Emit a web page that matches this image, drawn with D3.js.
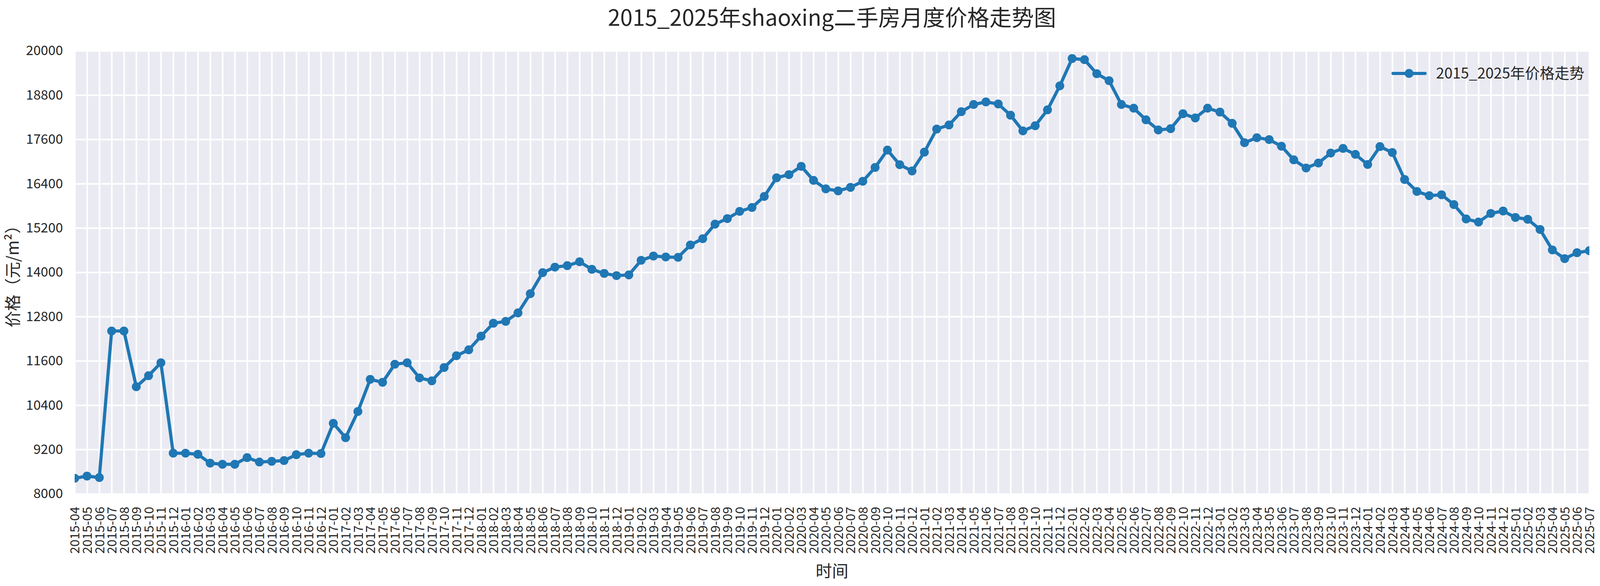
<!DOCTYPE html>
<html>
<head>
<meta charset="utf-8">
<script src="https://cdn.jsdelivr.net/npm/d3@7"></script>
<style>
  html, body { margin: 0; padding: 0; width: 100%; height: 100%; overflow: hidden; background: #fff; }
  svg { display: block; font-family: "Noto Sans CJK SC", "Noto Sans", sans-serif; }
</style>
</head>
<body>
<svg width="100%" height="100%"></svg>
<script>
// 数据
var months = [
  "2015-04","2015-05","2015-06","2015-07","2015-08","2015-09","2015-10","2015-11","2015-12",
  "2016-01","2016-02","2016-03","2016-04","2016-05","2016-06","2016-07","2016-08","2016-09","2016-10","2016-11","2016-12",
  "2017-01","2017-02","2017-03","2017-04","2017-05","2017-06","2017-07","2017-08","2017-09","2017-10","2017-11","2017-12",
  "2018-01","2018-02","2018-03","2018-04","2018-05","2018-06","2018-07","2018-08","2018-09","2018-10","2018-11","2018-12",
  "2019-01","2019-02","2019-03","2019-04","2019-05","2019-06","2019-07","2019-08","2019-09","2019-10","2019-11","2019-12",
  "2020-01","2020-02","2020-03","2020-04","2020-05","2020-06","2020-07","2020-08","2020-09","2020-10","2020-11","2020-12",
  "2021-01","2021-02","2021-03","2021-04","2021-05","2021-06","2021-07","2021-08","2021-09","2021-10","2021-11","2021-12",
  "2022-01","2022-02","2022-03","2022-04","2022-05","2022-06","2022-07","2022-08","2022-09","2022-10","2022-11","2022-12",
  "2023-01","2023-02","2023-03","2023-04","2023-05","2023-06","2023-07","2023-08","2023-09","2023-10","2023-11","2023-12",
  "2024-01","2024-02","2024-03","2024-04","2024-05","2024-06","2024-07","2024-08","2024-09","2024-10","2024-11","2024-12",
  "2025-01","2025-02","2025-03","2025-04","2025-05","2025-06","2025-07"
];

var prices = [
  8420, 8480, 8440, 12410, 12410, 10900, 11200, 11550, 9100,
  9100, 9070, 8830, 8800, 8800, 8980, 8860, 8880, 8900, 9060, 9100, 9090,
  9910, 9520, 10230, 11100, 11020, 11510, 11550, 11140, 11060, 11420, 11740, 11900,
  12270, 12620, 12670, 12900, 13420, 13990, 14140, 14180, 14285, 14080, 13970, 13910,
  13930, 14325, 14440, 14415, 14405, 14740, 14910, 15305, 15455, 15650, 15755, 16055,
  16560, 16645, 16870, 16490, 16260, 16205, 16300, 16465, 16840, 17310, 16915, 16745,
  17255, 17880, 17990, 18350, 18545, 18615, 18560, 18255, 17830, 17970, 18400, 19050,
  19790, 19760, 19380, 19190, 18545, 18445, 18130, 17855, 17890, 18295, 18180, 18445,
  18340, 18035, 17510, 17645, 17595, 17415, 17045, 16825, 16960, 17230, 17355, 17195,
  16920, 17405, 17245, 16515, 16190, 16075, 16100, 15835, 15445, 15360, 15595, 15660,
  15485, 15435, 15160, 14605, 14370, 14530, 14585
];

var yTicks = [8000, 9200, 10400, 11600, 12800, 14000, 15200, 16400, 17600, 18800, 20000];

var titleText = "2015_2025年shaoxing二手房月度价格走势图";
var seriesName = "2015_2025年价格走势";
var xLabel = "时间";
var yLabel = "价格（元/m²）";

// 画布：宽度固定 4500，高度按窗口比例伸缩（垂直位置乘 k）
var W = 4500;
var vw = window.innerWidth || 4500, vh = window.innerHeight || 1500;
var H = Math.round(W * vh / vw);
if (!(H > 0)) H = 1500;
var k = H / 1500;

var margin = {top: 130 * k, right: 30, bottom: 1500 * k - 1264 * k, left: 210};
var width = W - margin.left - margin.right;
var height = H - margin.top - margin.bottom;
var blue = "#1f77b4";
var ink = "#262626";

var dataset = months.map(function(m, i) { return {month: m, price: prices[i]}; });

// 比例尺
var xScale = d3.scalePoint().domain(months).range([0, width]).padding(0);
var yScale = d3.scaleLinear().domain([8000, 20000]).range([height, 0]);

var svg = d3.select("svg").attr("viewBox", "0 0 " + W + " " + H);

svg.append("text")
  .attr("x", margin.left + width / 2)
  .attr("y", 46 * k)
  .attr("dy", "0.35em")
  .attr("text-anchor", "middle")
  .attr("fill", ink)
  .style("font-size", "62.5px")
  .text(titleText);

var mySVG = svg.append("g")
  .attr("transform", "translate(" + margin.left + "," + margin.top + ")");

mySVG.append("rect")
  .attr("width", width)
  .attr("height", height)
  .attr("fill", "#eaeaf2");

mySVG.append("clipPath").attr("id", "plotclip")
  .append("rect").attr("width", width).attr("height", height);

// 网格
var yGrid = mySVG.append("g").attr("class", "ygrid")
  .call(d3.axisLeft(yScale).tickValues(yTicks).tickSize(-width).tickFormat(""));
var xGrid = mySVG.append("g").attr("class", "xgrid")
  .attr("transform", "translate(0," + height + ")")
  .call(d3.axisBottom(xScale).tickSize(height).tickFormat(""));
xGrid.selectAll(".tick line").attr("y2", -height);
mySVG.selectAll(".ygrid .domain, .xgrid .domain").remove();
mySVG.selectAll(".ygrid .tick line, .xgrid .tick line")
  .attr("stroke", "#fff")
  .attr("stroke-width", 4.5);

// 坐标轴
var yAxisGroup = mySVG.append("g").attr("class", "yAxis")
  .call(d3.axisLeft(yScale).tickValues(yTicks).tickSize(0).tickPadding(33).tickFormat(d3.format("d")));
var xAxisGroup = mySVG.append("g").attr("class", "xAxis")
  .attr("transform", "translate(0," + height + ")")
  .call(d3.axisBottom(xScale).tickSize(0));
mySVG.selectAll(".yAxis .domain, .xAxis .domain").remove();

yAxisGroup.selectAll("text")
  .attr("fill", ink)
  .style("font-size", "37.5px")
  .style("font-family", "'Noto Sans CJK SC', sans-serif");

xAxisGroup.selectAll("text")
  .attr("fill", ink)
  .attr("y", 0)
  .attr("x", -33 * k)
  .attr("dy", "0.36em")
  .attr("transform", "rotate(-90)")
  .style("text-anchor", "end")
  .style("font-size", "36px")
  .style("font-family", "'Noto Sans CJK SC', sans-serif");

// 折线
var line = d3.line()
  .x(function(d) { return xScale(d.month); })
  .y(function(d) { return yScale(d.price); });

var plot = mySVG.append("g").attr("clip-path", "url(#plotclip)");

plot.append("path")
  .datum(dataset)
  .attr("d", line)
  .attr("fill", "none")
  .attr("stroke", blue)
  .attr("stroke-width", 9)
  .attr("stroke-linejoin", "round")
  .attr("stroke-linecap", "round");

plot.selectAll("circle")
  .data(dataset)
  .enter()
  .append("circle")
  .attr("cx", function(d) { return xScale(d.month); })
  .attr("cy", function(d) { return yScale(d.price); })
  .attr("r", 12.5)
  .attr("fill", blue);

// 轴标题
svg.append("text")
  .attr("x", margin.left + width / 2)
  .attr("y", 1462 * k)
  .attr("text-anchor", "middle")
  .attr("dy", "0.35em")
  .attr("fill", ink)
  .style("font-size", "46px")
  .text(xLabel);

svg.append("text")
  .attr("transform", "translate(37," + (margin.top + height / 2) + ") rotate(-90)")
  .attr("text-anchor", "middle")
  .attr("dy", "0.35em")
  .attr("fill", ink)
  .style("font-size", "46px")
  .text(yLabel);

// 图例
var legend = svg.append("g").attr("transform", "translate(3918," + (188 * k) + ")");
legend.append("line")
  .attr("x1", 0).attr("x2", 90)
  .attr("stroke", blue)
  .attr("stroke-width", 9)
  .attr("stroke-linecap", "round");
legend.append("circle")
  .attr("cx", 45)
  .attr("r", 12.5)
  .attr("fill", blue);
legend.append("text")
  .attr("x", 121)
  .attr("dy", "0.35em")
  .attr("fill", ink)
  .style("font-size", "41.7px")
  .text(seriesName);
</script>
</body>
</html>
